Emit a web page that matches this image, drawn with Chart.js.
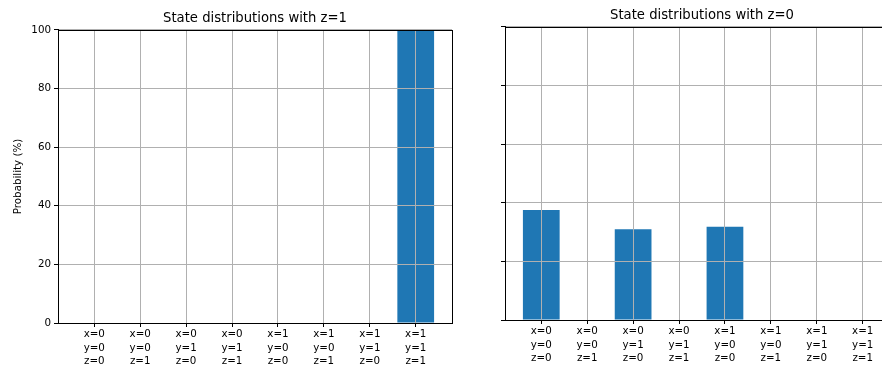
<!DOCTYPE html>
<html>
<head>
<meta charset="utf-8">
<script src="https://cdn.jsdelivr.net/npm/chart.js@4.4.1/dist/chart.umd.min.js"></script>
<style>
  html, body { margin: 0; padding: 0; background: #fff; overflow: hidden; width: 882px; height: 365px; }
  .box { position: absolute; top: 0; height: 365px; }
  #left { left: 0; width: 470px; }
  #right { left: 470px; width: 450px; }
</style>
</head>
<body>
<div class="box" id="left"><canvas id="chartZ1"></canvas></div>
<div class="box" id="right"><canvas id="chartZ0"></canvas></div>
<script>
// basis states, one label per bar
const categories = [
    ['x=0', 'y=0', 'z=0'], ['x=0', 'y=0', 'z=1'], ['x=0', 'y=1', 'z=0'], ['x=0', 'y=1', 'z=1'],
    ['x=1', 'y=0', 'z=0'], ['x=1', 'y=0', 'z=1'], ['x=1', 'y=1', 'z=0'], ['x=1', 'y=1', 'z=1']
];
const probZ1 = [0, 0, 0, 0, 0, 0, 0, 100];
const probZ0 = [37.5, 0, 31.0, 0, 31.8, 0, 0, 0];
const yTicks = [0, 20, 40, 60, 80, 100];

Chart.defaults.font.family = 'DejaVu Sans';
Chart.defaults.color = '#000';
Chart.defaults.animation = false;

// matplotlib draws the grid above the bars here, plus a full frame
const gridOnTop = {
    id: 'gridOnTop',
    afterDatasetsDraw(chart) {
        const a = chart.chartArea;
        chart.scales.x.drawGrid(a);
        chart.scales.y.drawGrid(a);
        const ctx = chart.ctx;
        ctx.save();
        ctx.strokeStyle = '#000';
        ctx.lineWidth = 1;
        ctx.strokeRect(Math.round(a.left) + 0.5, Math.round(a.top) + 0.5,
            Math.round(a.right - a.left), Math.round(a.bottom - a.top));
        ctx.restore();
    }
};

function makeChart(id, values, title, opts) {
    const ctx = document.getElementById(id).getContext('2d');
    return new Chart(ctx, {
        type: 'bar',
        data: {
            datasets: [{
                data: values.map((v, i) => ({ x: i, y: v })),
                backgroundColor: '#1f77b4',
                borderWidth: 0,
                barPercentage: 0.8,
                categoryPercentage: 1.0
            }]
        },
        options: {
            responsive: true,
            maintainAspectRatio: false,
            layout: { padding: { left: 0, right: opts.padRight, top: 0, bottom: 0 } },
            plugins: {
                legend: { display: false },
                tooltip: { enabled: false },
                title: {
                    display: true,
                    text: title,
                    fullSize: false,
                    font: { size: 13.2, weight: 'normal', lineHeight: 1.2 },
                    padding: { top: opts.titleTop, bottom: 3.5 }
                }
            },
            scales: {
                x: {
                    type: 'linear',
                    offset: false,
                    min: -0.79,
                    max: 7.79,
                    afterBuildTicks: s => { s.ticks = categories.map((c, i) => ({ value: i })); },
                    afterFit: s => { s.height = opts.xHeight; },
                    ticks: {
                        autoSkip: false,
                        maxRotation: 0,
                        padding: 1,
                        font: { size: 10.3, lineHeight: 1.3 },
                        callback: v => categories[v]
                    },
                    grid: { offset: false, color: '#b0b0b0', lineWidth: 1, tickLength: 4, tickColor: '#000' },
                    border: { color: '#000', width: 1 }
                },
                y: {
                    min: 0,
                    max: 100,
                    afterBuildTicks: s => { s.ticks = yTicks.map(v => ({ value: v })); },
                    afterFit: s => { s.width = opts.yWidth; },
                    ticks: {
                        padding: 3,
                        font: { size: 10.3 },
                        callback: v => opts.showY ? v : ''
                    },
                    title: {
                        display: opts.showY,
                        text: 'Probability (%)',
                        font: { size: 10.3 },
                        padding: { top: 12, bottom: 0 }
                    },
                    grid: { color: '#b0b0b0', lineWidth: 1, tickLength: 4, tickColor: '#000' },
                    border: { color: '#000', width: 1 }
                }
            }
        },
        plugins: [gridOnTop]
    });
}

makeChart('chartZ1', probZ1, 'State distributions with z=1',
    { padRight: 18, titleTop: 10.6, xHeight: 42, yWidth: 58, showY: true });
makeChart('chartZ0', probZ0, 'State distributions with z=0',
    { padRight: 21, titleTop: 7.6, xHeight: 45, yWidth: 35, showY: false });
</script>
</body>
</html>
